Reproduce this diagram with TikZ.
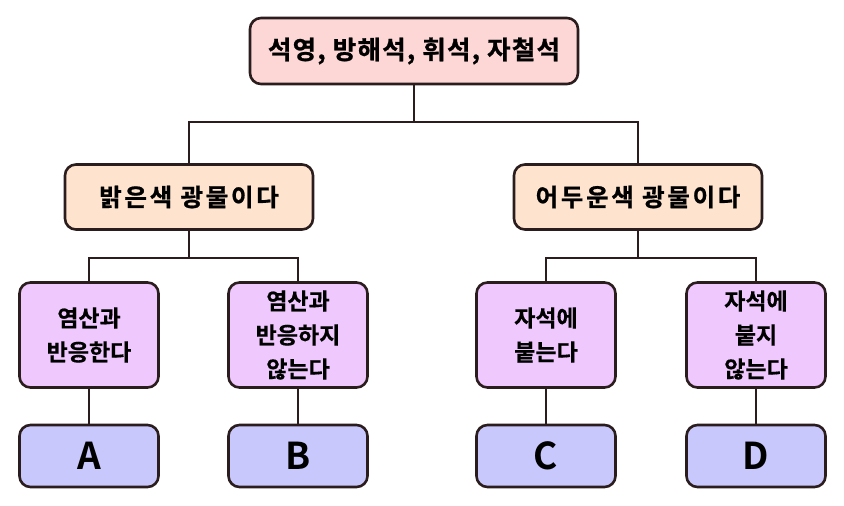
\documentclass[tikz,border=0pt]{standalone}
\usepackage{fontspec}
\setmainfont{Noto Sans CJK KR}[BoldFont={* Bold}]
\definecolor{edge}{HTML}{2B1D1D}
\definecolor{pinkfill}{HTML}{FDD6D6}
\definecolor{peachfill}{HTML}{FEE4CE}
\definecolor{lilacfill}{HTML}{EFC8FD}
\definecolor{bluefill}{HTML}{C8C8FD}
\begin{document}
\begin{tikzpicture}[x=1pt, y=-1pt,
  box/.style={draw=edge, line width=2.6pt, rounded corners=11pt, align=center,
    font=\bfseries\fontsize{23}{34}\selectfont\addfontfeature{FakeBold=0.4}, inner sep=0pt},
  topbox/.style={box, fill=pinkfill, minimum width=328pt, minimum height=66pt,
    font=\bfseries\fontsize{25.5}{34}\selectfont\addfontfeature{LetterSpace=5,FakeBold=1}},
  midbox/.style={box, fill=peachfill, minimum width=248pt, minimum height=65pt,
    font=\bfseries\fontsize{24.5}{34}\selectfont\addfontfeature{LetterSpace=11,FakeBold=0.8}},
  leafbox/.style={box, fill=lilacfill, minimum width=139pt, minimum height=105pt},
  letbox/.style={box, fill=bluefill, minimum width=139pt, minimum height=62pt,
    font=\bfseries\fontsize{37}{37}\selectfont},
  link/.style={draw=edge, line width=2.6pt}]
\useasboundingbox (0,0) rectangle (844,506);
\node[topbox] (root) at (414,51) {석영, 방해석, 휘석, 자철석};
\node[midbox] (light) at (189,197) {밝은색 광물이다};
\node[midbox] (dark) at (638,197) {어두운색 광물이다};
\node[leafbox] (acid) at (89,335) {염산과\\반응한다};
\node[leafbox] (noacid) at (298,335) {염산과\\반응하지\\않는다};
\node[leafbox] (mag) at (546,335) {자석에\\붙는다};
\node[leafbox] (nomag) at (756,335) {자석에\\붙지\\않는다};
\node[letbox] (A) at (89,456) {A};
\node[letbox] (B) at (298,456) {B};
\node[letbox] (C) at (546,456) {C};
\node[letbox] (D) at (756,456) {D};
% tree links
\coordinate (j0) at (414,122);
\coordinate (j1) at (189,258);
\coordinate (j2) at (638,258);
\path[link] (root.south) -- (j0) (light.north) |- (j0) -| (dark.north);
\path[link] (light.south) -- (j1) (acid.north) |- (j1) -| (noacid.north);
\path[link] (dark.south) -- (j2) (mag.north) |- (j2) -| (nomag.north);
\path[link] (acid) -- (A) (noacid) -- (B) (mag) -- (C) (nomag) -- (D);
\end{tikzpicture}
\end{document}
